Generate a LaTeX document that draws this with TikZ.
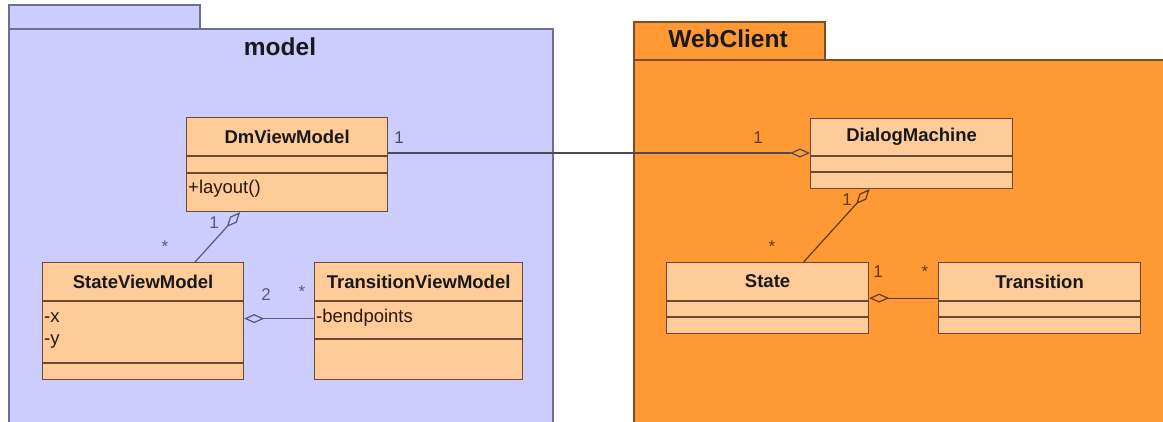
\documentclass[tikz,border=0pt]{standalone}
\usepackage{fontspec}
\setmainfont{Liberation Sans}
\usetikzlibrary{arrows.meta}

\definecolor{modelfill}{HTML}{CCCCFF}
\definecolor{modeldraw}{HTML}{6E6E8E}
\definecolor{webfill}{HTML}{FF9933}
\definecolor{webdraw}{HTML}{7E4E22}
\definecolor{classfill}{HTML}{FFCC99}
\definecolor{classdraw}{HTML}{6A4A34}
\definecolor{modelline}{HTML}{58587A}
\definecolor{webline}{HTML}{5E3A1A}
\definecolor{crossline}{HTML}{4C4C58}

\tikzset{
	umlclass/.style={shape=rectangle, draw=classdraw, fill=classfill, line width=1.2pt, anchor=north west, inner sep=0pt},
	classline/.style={draw=classdraw, line width=1.2pt},
	classname/.style={font=\fontsize{18.5}{21}\selectfont\bfseries, text=black!90},
	member/.style={font=\fontsize{18.5}{21}\selectfont, anchor=west, inner sep=2pt, text=black!80!brown},
	mult/.style={font=\fontsize{17}{20}\selectfont, inner sep=0pt},
	agg/.style={{Diamond[open, length=20pt, width=9pt]}-, line width=1.2pt},
	pkgname/.style={font=\fontsize{24.5}{28}\selectfont\bfseries, text=black!90}
}

\begin{document}
\begin{tikzpicture}[x=1pt, y=-1pt]

	\clip (0,0) rectangle (1163,421);
	\fill[white] (0,0) rectangle (1163,421);

	\draw[fill=modelfill, draw=modeldraw, line width=1.2pt] (9,5) rectangle (200,29);
	\draw[fill=modelfill, draw=modeldraw, line width=1.2pt] (9,29) rectangle (553,440);
	\node[pkgname] (model-label) at (280,47) {model};

	\draw[fill=webfill, draw=webdraw, line width=1.2pt] (634,22) rectangle (825,60);
	\draw[fill=webfill, draw=webdraw, line width=1.2pt] (634,60) rectangle (1180,440);
	\node[pkgname] (web-label) at (728,39) {WebClient};

	\node[umlclass, minimum width=201, minimum height=94] (dm) at (186,117) {};
	\node[umlclass, minimum width=201, minimum height=117] (svm) at (42,262) {};
	\node[umlclass, minimum width=208, minimum height=117] (tvm) at (314,262) {};

	\node[umlclass, minimum width=202, minimum height=70] (dialog) at (810,118) {};
	\node[umlclass, minimum width=202, minimum height=71] (state) at (666,262) {};
	\node[umlclass, minimum width=202, minimum height=71] (trans) at (938,262) {};

	\foreach \cls/\first/\second in {dm/39/56, svm/39/101, tvm/39/77, dialog/38/54, state/39/55, trans/39/55}
		\draw[classline] ([yshift=-\first]\cls.north west) -- ([yshift=-\first]\cls.north east)
			([yshift=-\second]\cls.north west) -- ([yshift=-\second]\cls.north east);

	\node[classname] (dm-name) at ([yshift=-19.5]dm.north) {DmViewModel};
	\node[classname] (svm-name) at ([yshift=-19.5]svm.north) {StateViewModel};
	\node[classname] (tvm-name) at ([yshift=-19.5]tvm.north) {TransitionViewModel};
	\node[classname] (dialog-name) at ([yshift=-19]dialog.north) {DialogMachine};
	\node[classname] (state-name) at ([yshift=-19.5]state.north) {State};
	\node[classname] (trans-name) at ([yshift=-19.5]trans.north) {Transition};

	\node[member] (dm-layout) at ([yshift=-72]dm.north west) {+layout()};
	\node[member] (svm-x) at ([yshift=-56]svm.north west) {-x};
	\node[member] (svm-y) at ([yshift=-80]svm.north west) {-y};
	\node[member] (tvm-bend) at ([yshift=-56]tvm.north west) {-bendpoints};

	\path[agg, color=crossline] ([yshift=-35]dialog.north west) edge ([yshift=-36]dm.north east);
	\path[agg, color=modelline] ([xshift=-47]dm.south) edge ([xshift=52]svm.north);
	\path[agg, color=modelline] ([yshift=2.5]svm.east) edge ([yshift=2.5]tvm.west);
	\path[agg, color=webline] ([xshift=-42]dialog.south) edge ([xshift=36]state.north);
	\path[agg, color=webline] (state.east) edge (trans.west);

	\node[mult, text=crossline] (dm-one) at (399,138) {1};
	\node[mult, text=webline] (dialog-one) at (758,138) {1};
	\node[mult, text=modelline] (dm-svm-one) at (214,223) {1};
	\node[mult, text=modelline] (dm-svm-many) at (165,247) {*};
	\node[mult, text=modelline] (svm-two) at (266,295) {2};
	\node[mult, text=modelline] (tvm-many) at (302,292) {*};
	\node[mult, text=webline] (dialog-state-one) at (847,200) {1};
	\node[mult, text=webline] (dialog-state-many) at (772,247) {*};
	\node[mult, text=webline] (state-one) at (878,272) {1};
	\node[mult, text=webline] (trans-many) at (925,272) {*};

\end{tikzpicture}
\end{document}
